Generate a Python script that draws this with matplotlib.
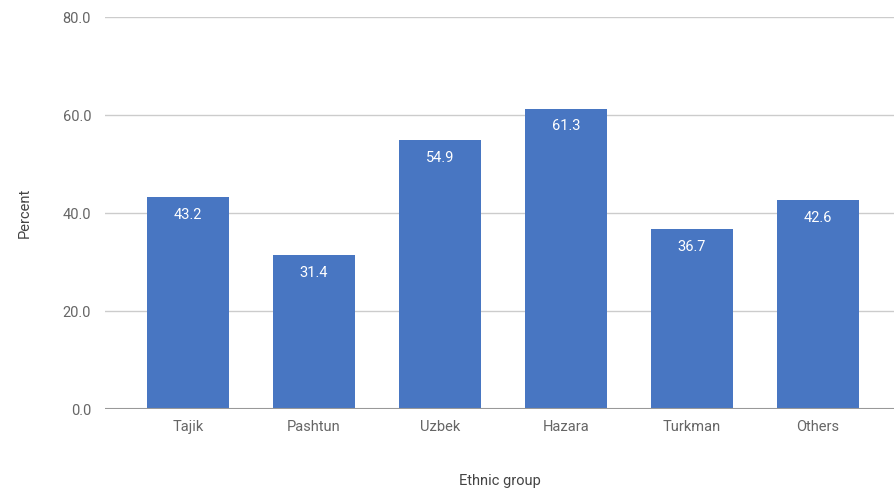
import matplotlib.pyplot as plt
import numpy as np

groups = ['Tajik', 'Pashtun', 'Uzbek', 'Hazara', 'Turkman', 'Others']
percent = [43.2, 31.4, 54.9, 61.3, 36.7, 42.6]
yticks = [0, 20, 40, 60, 80]

plt.rcParams['font.family'] = ['Roboto', 'DejaVu Sans']

fig = plt.figure(figsize=(8.94, 4.96), dpi=100)
ax = fig.add_axes([0.1174, 0.1754, 0.8826, 0.7903])

x = np.arange(len(groups))
bars = ax.bar(x, percent, width=0.65, color='#4876c2', zorder=3)

for b, v in zip(bars, percent):
    ax.text(b.get_x() + b.get_width() / 2, v - 2.2, f'{v:.1f}',
            ha='center', va='top', color='white', fontsize=10.5, zorder=4)

ax.set_xlim(-0.659, 5.603)
ax.set_ylim(0, 80)
ax.set_xticks(x)
ax.set_xticklabels(groups)
ax.set_yticks(yticks)
ax.set_yticklabels([f'{t:.1f}' for t in yticks])

ax.grid(axis='y', color='#cccccc', linewidth=1, zorder=0)
ax.axhline(0, color='#999999', linewidth=1.5, zorder=5)
for s in ax.spines.values():
    s.set_visible(False)
ax.tick_params(length=0, labelsize=10.5, labelcolor='#666666')
ax.tick_params(axis='y', pad=10)
ax.tick_params(axis='x', pad=8)

ax.set_xlabel('Ethnic group', fontsize=10.5, color='#444444', labelpad=29)
ax.set_ylabel('Percent', fontsize=10.5, color='#444444', labelpad=22)

fig.savefig('out.png', dpi=100)
